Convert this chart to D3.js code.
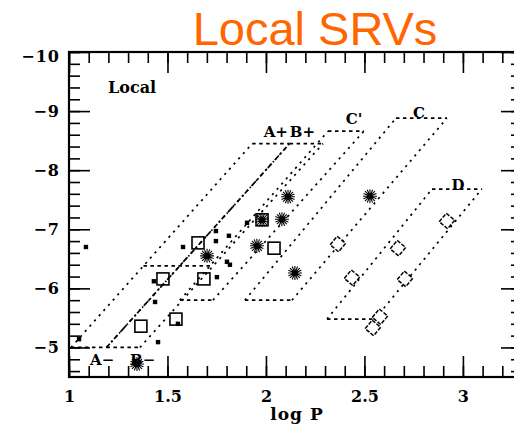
<!DOCTYPE html>
<html>
<head>
<meta charset="utf-8">
<script src="https://cdn.jsdelivr.net/npm/d3@7"></script>
<style>
  body { margin: 0; background: #fff; }
  svg { display: block; }
</style>
</head>
<body>
<div id="chart"></div>
<script>
// values: log P and magnitude
const dotLogP = [1.086, 1.579, 1.746, 1.746, 1.812, 1.904, 1.802, 1.817, 1.751, 1.431, 1.437, 1.452, 1.553, 1.335, 1.051];
const dotMag  = [-6.70, -6.70, -6.97, -6.80, -6.89, -7.11, -6.45, -6.40, -6.19, -6.12, -5.77, -5.09, -5.40, -4.75, -5.14];

const squareLogP = [1.655, 2.041, 1.477, 1.685, 1.365, 1.543, 1.980];
const squareMag  = [-6.77, -6.68, -6.16, -6.16, -5.36, -5.48, -7.16];

const starLogP = [2.112, 1.980, 2.081, 1.954, 1.701, 2.528, 2.147, 1.345];
const starMag  = [-7.55, -7.16, -7.17, -6.72, -6.55, -7.56, -6.26, -4.72];

const diamondLogP = [2.365, 2.670, 2.437, 2.706, 2.919, 2.579, 2.543];
const diamondMag  = [-6.75, -6.68, -6.18, -6.16, -7.14, -5.52, -5.33];

// sequence boxes: bottom-left, top-left, top-right, bottom-right
const regionA  = [[1.01, -5.0], [1.93, -8.45], [2.12, -8.45], [1.19, -5.0]];
const regionB  = [[1.19, -5.0], [2.12, -8.45], [2.29, -8.45], [1.36, -5.0]];
const regionCp = [[1.563, -5.80], [2.315, -8.66], [2.497, -8.66], [1.731, -5.80]];
const regionC  = [[1.893, -5.80], [2.66, -8.88], [2.919, -8.88], [2.132, -5.80]];
const regionD  = [[2.31, -5.48], [2.843, -7.68], [3.096, -7.68], [2.553, -5.48]];
const trgbLine = [[1.378, -6.38], [1.732, -6.38]];

const boxLabels = ["A+", "B+", "C'", "C", "D", "A\u2212", "B\u2212"];
const labelLogP = [2.05, 2.185, 2.447, 2.777, 2.975, 1.107, 1.31];
const labelMag  = [-8.56, -8.56, -8.78, -8.88, -7.66, -4.70, -4.70];

const xMajor = [1, 1.5, 2, 2.5, 3];
const yMajor = [-10, -9, -8, -7, -6, -5];

const width = 514, height = 426;
const margin = { top: 52, left: 69, bottom: 377, right: 522 };

const svg = d3.select("#chart")
  .append("svg")
    .attr("width", width)
    .attr("height", height);

svg.append("text")
    .attr("x", 315)
    .attr("y", 45)
    .attr("text-anchor", "middle")
    .style("font-family", "'Liberation Sans', Arial, sans-serif")
    .style("font-size", "47px")
    .style("fill", "#ff6600")
    .text("Local SRVs");

const x = d3.scaleLinear().domain([1, 3.3]).range([margin.left, margin.right]);
const y = d3.scaleLinear().domain([-10, -4.5]).range([margin.top, margin.bottom]);

const xMinor = d3.range(1, 3.301, 0.1).map(v => +v.toFixed(2));
const yMinor = d3.range(-10, -4.49, 0.2).map(v => +v.toFixed(2));

const serif = "'DejaVu Serif', serif";

function tickAxis(axis, pos, ticks, size, labels) {
  const g = svg.append("g")
      .attr("transform", pos)
      .call(axis.tickValues(ticks).tickSize(-size).tickPadding(labels ? labels : 0)
        .tickFormat(labels ? d3.format("") : ""));
  g.select(".domain").remove();
  g.selectAll(".tick line").attr("stroke", "#000").attr("stroke-width", 1.6);
  return g;
}

// minor ticks all round
tickAxis(d3.axisBottom(x), `translate(0,${margin.bottom})`, xMinor, 11);
tickAxis(d3.axisTop(x), `translate(0,${margin.top})`, xMinor, 11);
tickAxis(d3.axisLeft(y), `translate(${margin.left},0)`, yMinor, 11);
tickAxis(d3.axisRight(y), `translate(${margin.right},0)`, yMinor, 11);

// major ticks, labelled on bottom and left
const bx = tickAxis(d3.axisBottom(x), `translate(0,${margin.bottom})`, xMajor, 21, 14);
tickAxis(d3.axisTop(x), `translate(0,${margin.top})`, xMajor, 21);
const ly = tickAxis(d3.axisLeft(y), `translate(${margin.left},0)`, yMajor, 21, 9);
tickAxis(d3.axisRight(y), `translate(${margin.right},0)`, yMajor, 21);

bx.selectAll(".tick text")
    .style("font-family", serif)
    .style("font-size", "16px")
    .style("font-weight", "bold")
    .style("fill", "#000");
ly.selectAll(".tick text")
    .style("font-family", serif)
    .style("font-size", "16px")
    .style("font-weight", "bold")
    .style("letter-spacing", "1px")
    .style("fill", "#000");
ly.selectAll(".tick text").filter(d => d === -10).attr("dy", "0.6em");

svg.append("rect")
    .attr("x", margin.left)
    .attr("y", margin.top)
    .attr("width", margin.right - margin.left)
    .attr("height", margin.bottom - margin.top)
    .attr("fill", "none")
    .attr("stroke", "#000")
    .attr("stroke-width", 2.2);

svg.append("text")
    .attr("x", 297)
    .attr("y", 420)
    .attr("text-anchor", "middle")
    .style("font-family", serif)
    .style("font-size", "17px")
    .style("font-weight", "bold")
    .style("letter-spacing", "1px")
    .text("log P");

svg.append("text")
    .attr("x", x(1.198))
    .attr("y", y(-9.31))
    .style("font-family", serif)
    .style("font-size", "16px")
    .style("font-weight", "bold")
    .text("Local");

// sequence boxes
const line = d3.line().x(d => x(d[0])).y(d => y(d[1]));
const slant = "2.2,4.8", flat = "3.5,3.5";

[regionA, regionB, regionCp, regionC, regionD].forEach((r, i) => {
  // slanted sides
  [[r[0], r[1]], [r[3], r[2]]].forEach(side => {
    svg.append("path")
        .attr("d", line(side))
        .attr("fill", "none")
        .attr("stroke", "#000")
        .attr("stroke-width", 1.7)
        .attr("stroke-dasharray", i === 1 && side[0] === r[0] ? "5,2.5,1.5,2.5" : slant);
  });
  // top and bottom
  [[r[1], r[2]], [r[0], r[3]]].forEach(edge => {
    svg.append("path")
        .attr("d", line(edge))
        .attr("fill", "none")
        .attr("stroke", "#000")
        .attr("stroke-width", 1.7)
        .attr("stroke-dasharray", flat);
  });
});

svg.append("path")
    .attr("d", line(trgbLine))
    .attr("fill", "none")
    .attr("stroke", "#000")
    .attr("stroke-width", 1.7)
    .attr("stroke-dasharray", flat);

svg.selectAll("text.box")
  .data(boxLabels)
  .join("text")
    .attr("class", "box")
    .attr("x", (d, i) => x(labelLogP[i]))
    .attr("y", (d, i) => y(labelMag[i]))
    .attr("text-anchor", (d, i) => i < 5 ? "middle" : "start")
    .style("font-family", serif)
    .style("font-size", "15px")
    .style("font-weight", "bold")
    .text(d => d);

// points
svg.selectAll("rect.dot")
  .data(dotLogP)
  .join("rect")
    .attr("class", "dot")
    .attr("x", (d, i) => x(d) - 2.2)
    .attr("y", (d, i) => y(dotMag[i]) - 2.2)
    .attr("width", 4.4)
    .attr("height", 4.4)
    .attr("fill", "#000");

svg.selectAll("rect.sq")
  .data(squareLogP)
  .join("rect")
    .attr("class", "sq")
    .attr("x", (d, i) => x(d) - 6)
    .attr("y", (d, i) => y(squareMag[i]) - 6)
    .attr("width", 12)
    .attr("height", 12)
    .attr("fill", "none")
    .attr("stroke", "#000")
    .attr("stroke-width", 1.6);

const starPath = d3.range(8).map(k => {
  const a = k * Math.PI / 8, r = 7;
  return `M${-r * Math.cos(a)},${-r * Math.sin(a)}L${r * Math.cos(a)},${r * Math.sin(a)}`;
}).join("");

svg.selectAll("path.star")
  .data(starLogP)
  .join("path")
    .attr("class", "star")
    .attr("transform", (d, i) => `translate(${x(d)},${y(starMag[i])})`)
    .attr("d", starPath)
    .attr("stroke", "#000")
    .attr("stroke-width", 1.1);

svg.selectAll("rect.dia")
  .data(diamondLogP)
  .join("rect")
    .attr("class", "dia")
    .attr("transform", (d, i) => `translate(${x(d)},${y(diamondMag[i])}) rotate(40)`)
    .attr("x", -5.5)
    .attr("y", -5.5)
    .attr("width", 11)
    .attr("height", 11)
    .attr("fill", "#fff")
    .attr("stroke", "#000")
    .attr("stroke-width", 1.5)
    .attr("stroke-dasharray", "4,1.5");
</script>
</body>
</html>
